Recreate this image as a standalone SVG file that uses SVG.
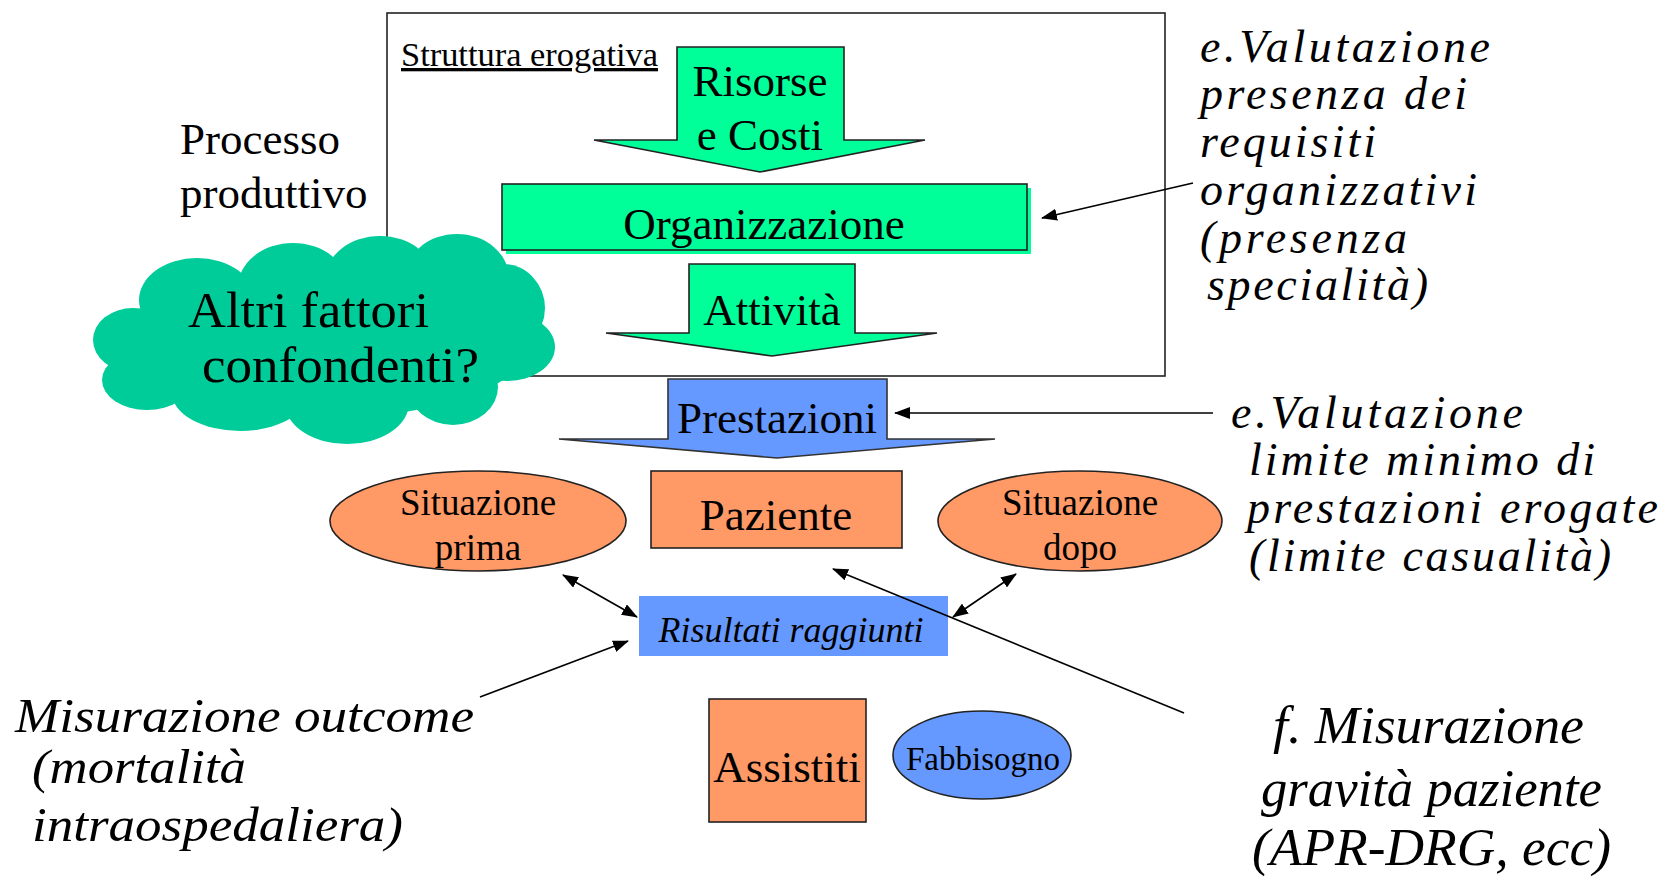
<svg xmlns="http://www.w3.org/2000/svg" width="1664" height="877" viewBox="0 0 1664 877">
<style>
.t{font-family:"Liberation Serif","Times New Roman",serif;fill:#000}
.big{font-size:45px}
.it{font-style:italic}
.ln{stroke:#000;stroke-width:1.6;fill:none}
.grn{fill:#00FF99;stroke:#222;stroke-width:1.6}
.blu{fill:#6699FF}
.org{fill:#FF9966;stroke:#222;stroke-width:1.6}
</style>
<defs>
<marker id="ah" markerUnits="userSpaceOnUse" markerWidth="16" markerHeight="12" refX="15" refY="6" orient="auto-start-reverse">
<path d="M0,0 L16,6 L0,12 Z" fill="#000"/>
</marker>
</defs>
<rect width="1664" height="877" fill="#fff"/>

<g id="struttura">
<rect x="387" y="13" width="778" height="363" fill="#fff" stroke="#222" stroke-width="1.6"/>
<text class="t" x="401" y="66" font-size="33" text-decoration="underline" textLength="257" lengthAdjust="spacingAndGlyphs">Struttura erogativa</text>
</g>

<g id="processo">
<text class="t big" x="180" y="154">Processo</text>
<text class="t big" x="180" y="208">produttivo</text>
</g>

<g id="risorse">
<path class="grn" d="M677,47 L844,47 L844,140 L925,140 L760,172 L594,140 L677,140 Z"/>
<text class="t big" x="760" y="96" text-anchor="middle">Risorse</text>
<text class="t big" x="760" y="150" text-anchor="middle">e Costi</text>
</g>

<g id="organizzazione">
<rect x="506" y="188" width="525" height="66" fill="#00FF99"/>
<rect x="502" y="184" width="525" height="66" class="grn"/>
<text class="t big" x="764" y="239" text-anchor="middle">Organizzazione</text>
</g>

<g id="attivita">
<path class="grn" d="M689,264 L855,264 L855,333 L937,333 L772,356 L606,333 L689,333 Z"/>
<text class="t big" x="772" y="325" text-anchor="middle">Attività</text>
</g>

<g id="cloud">
<g fill="#00CC99">
<ellipse cx="133" cy="340" rx="40" ry="32"/>
<ellipse cx="197" cy="300" rx="58" ry="42"/>
<ellipse cx="293" cy="287" rx="55" ry="44"/>
<ellipse cx="380" cy="280" rx="55" ry="44"/>
<ellipse cx="457" cy="278" rx="52" ry="44"/>
<ellipse cx="503" cy="308" rx="42" ry="44"/>
<ellipse cx="507" cy="347" rx="48" ry="34"/>
<ellipse cx="453" cy="387" rx="45" ry="38"/>
<ellipse cx="347" cy="403" rx="62" ry="41"/>
<ellipse cx="240" cy="393" rx="68" ry="38"/>
<ellipse cx="147" cy="380" rx="45" ry="30"/>
<ellipse cx="325" cy="343" rx="205" ry="75"/>
</g>
<text class="t" x="188" y="327" font-size="51" textLength="241" lengthAdjust="spacingAndGlyphs">Altri fattori</text>
<text class="t" x="202" y="382" font-size="51" textLength="277" lengthAdjust="spacingAndGlyphs">confondenti?</text>
</g>

<g id="prestazioni">
<path class="blu" stroke="#333" stroke-width="1.6" d="M668,379 L887,379 L887,439 L995,439 L777,458 L559,439 L668,439 Z"/>
<text class="t big" x="777" y="433" text-anchor="middle">Prestazioni</text>
</g>

<g id="paziente">
<rect class="org" x="651" y="471" width="251" height="77"/>
<text class="t big" x="776" y="530" text-anchor="middle">Paziente</text>
</g>

<g id="situazione-prima">
<ellipse class="org" cx="478" cy="521" rx="148" ry="50"/>
<text class="t" x="478" y="515" font-size="37" text-anchor="middle">Situazione</text>
<text class="t" x="478" y="560" font-size="37" text-anchor="middle">prima</text>
</g>

<g id="situazione-dopo">
<ellipse class="org" cx="1080" cy="521" rx="142" ry="50"/>
<text class="t" x="1080" y="515" font-size="37" text-anchor="middle">Situazione</text>
<text class="t" x="1080" y="560" font-size="37" text-anchor="middle">dopo</text>
</g>

<g id="risultati">
<rect class="blu" x="639" y="596" width="309" height="60"/>
<text class="t it" x="791" y="642" font-size="36" text-anchor="middle">Risultati raggiunti</text>
</g>

<g id="assistiti">
<rect class="org" x="709" y="699" width="157" height="123"/>
<text class="t big" x="787" y="782" text-anchor="middle">Assistiti</text>
</g>

<g id="fabbisogno">
<ellipse class="blu" stroke="#222" stroke-width="1.6" cx="982" cy="755" rx="89" ry="44"/>
<text class="t" x="983" y="770" font-size="33" text-anchor="middle">Fabbisogno</text>
</g>

<g id="note-requisiti" class="t it" font-size="46">
<text x="1200" y="62" textLength="290" lengthAdjust="spacing">e.Valutazione</text>
<text x="1200" y="109" textLength="267" lengthAdjust="spacing">presenza dei</text>
<text x="1200" y="157" textLength="176" lengthAdjust="spacing">requisiti</text>
<text x="1200" y="205" textLength="277" lengthAdjust="spacing">organizzativi</text>
<text x="1200" y="253" textLength="207" lengthAdjust="spacing">(presenza</text>
<text x="1207" y="300" textLength="221" lengthAdjust="spacing">specialità)</text>
</g>

<g id="note-prestazioni" class="t it" font-size="46">
<text x="1231" y="428" textLength="292" lengthAdjust="spacing">e.Valutazione</text>
<text x="1249" y="475" textLength="346" lengthAdjust="spacing">limite minimo di</text>
<text x="1247" y="523" textLength="411" lengthAdjust="spacing">prestazioni erogate</text>
<text x="1249" y="571" textLength="362" lengthAdjust="spacing">(limite casualità)</text>
</g>

<g id="note-outcome" class="t it" font-size="48">
<text x="15" y="732" textLength="459" lengthAdjust="spacingAndGlyphs">Misurazione outcome</text>
<text x="32" y="783" textLength="214" lengthAdjust="spacingAndGlyphs">(mortalità</text>
<text x="32" y="841" textLength="371" lengthAdjust="spacingAndGlyphs">intraospedaliera)</text>
</g>

<g id="note-gravita" class="t it" font-size="52">
<text x="1273" y="743" textLength="311" lengthAdjust="spacingAndGlyphs">f. Misurazione</text>
<text x="1261" y="806" textLength="341" lengthAdjust="spacingAndGlyphs">gravità paziente</text>
<text x="1252" y="865" textLength="359" lengthAdjust="spacingAndGlyphs">(APR-DRG, ecc)</text>
</g>

<g id="connectors">
<line class="ln" x1="1193" y1="183" x2="1042" y2="218" marker-end="url(#ah)"/>
<line class="ln" x1="1213" y1="413" x2="895" y2="413" marker-end="url(#ah)"/>
<line class="ln" x1="563" y1="575" x2="637" y2="617" marker-start="url(#ah)" marker-end="url(#ah)"/>
<line class="ln" x1="1016" y1="574" x2="953" y2="617" marker-start="url(#ah)" marker-end="url(#ah)"/>
<line class="ln" x1="480" y1="697" x2="628" y2="641" marker-end="url(#ah)"/>
<line class="ln" x1="1184" y1="713" x2="833" y2="569" stroke-width="2" marker-end="url(#ah)"/>
</g>
</svg>
